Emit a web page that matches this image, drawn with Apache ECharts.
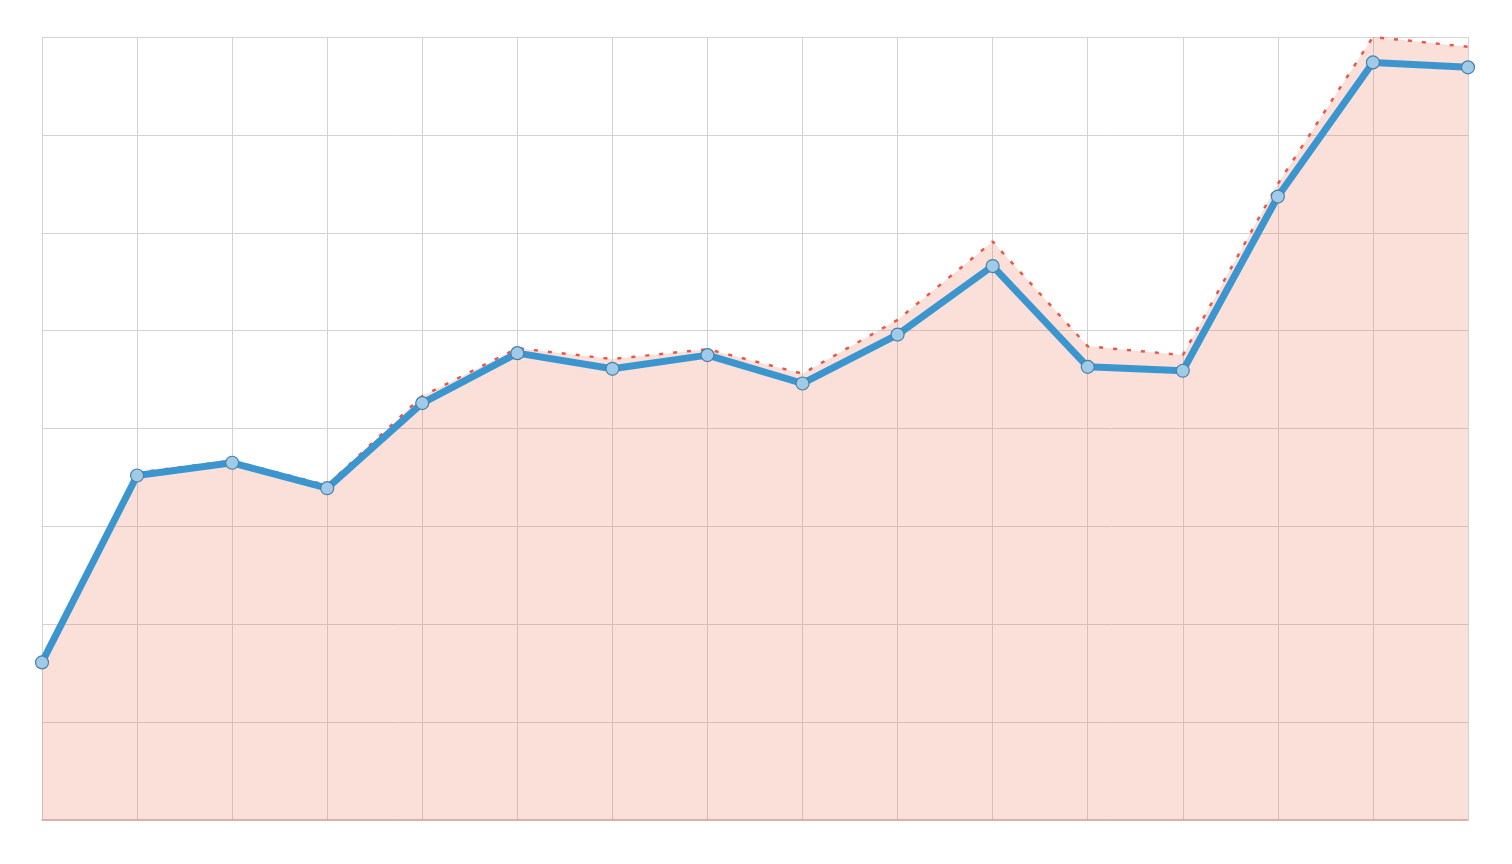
<!DOCTYPE html>
<html>
<head>
<meta charset="utf-8">
<script src="https://cdn.jsdelivr.net/npm/echarts@6/dist/echarts.min.js"></script>
<style>
html,body{margin:0;padding:0;background:#fff;}
#c{width:1512px;height:864px;}
</style>
</head>
<body>
<div id="c"></div>
<script>
const categories = ['1','2','3','4','5','6','7','8','9','10','11','12','13','14','15','16'];
const lineValues = [1.61, 3.52, 3.65, 3.39, 4.26, 4.77, 4.61, 4.75, 4.46, 4.96, 5.66, 4.63, 4.59, 6.37, 7.74, 7.69];
const areaValues = [1.63, 3.55, 3.67, 3.42, 4.33, 4.82, 4.71, 4.81, 4.56, 5.11, 5.91, 4.84, 4.75, 6.50, 8.00, 7.90];

const chart = echarts.init(document.getElementById('c'), null, {renderer: 'canvas'});
chart.setOption({
  animation: false,
  backgroundColor: '#ffffff',
  grid: {left: 42, right: 44, top: 37, bottom: 44, show: false},
  xAxis: {
    type: 'category',
    data: categories,
    boundaryGap: false,
    axisLabel: {show: false},
    axisTick: {show: false},
    axisLine: {show: true, lineStyle: {color: '#d4aaa2', width: 1.5}},
    splitLine: {show: true, lineStyle: {color: '#d2d2d2', width: 1}}
  },
  yAxis: {
    type: 'value',
    min: 0, max: 8, interval: 1,
    axisLabel: {show: false},
    axisTick: {show: false},
    axisLine: {show: false},
    splitLine: {show: true, lineStyle: {color: '#d2d2d2', width: 1}}
  },
  series: [
    {
      type: 'line',
      data: areaValues,
      symbol: 'none',
      z: 1,
      lineStyle: {color: '#e8574a', width: 2.5, type: [4, 10]},
      areaStyle: {color: 'rgba(240,125,100,0.34)', origin: 'start'}
    },
    {
      type: 'line',
      data: lineValues,
      symbol: 'circle',
      symbolSize: 13,
      z: 3,
      lineStyle: {color: '#3b96cf', width: 7},
      itemStyle: {color: '#9fcbe8', borderColor: '#4a7fa8', borderWidth: 1.2}
    }
  ]
});
</script>
</body>
</html>
